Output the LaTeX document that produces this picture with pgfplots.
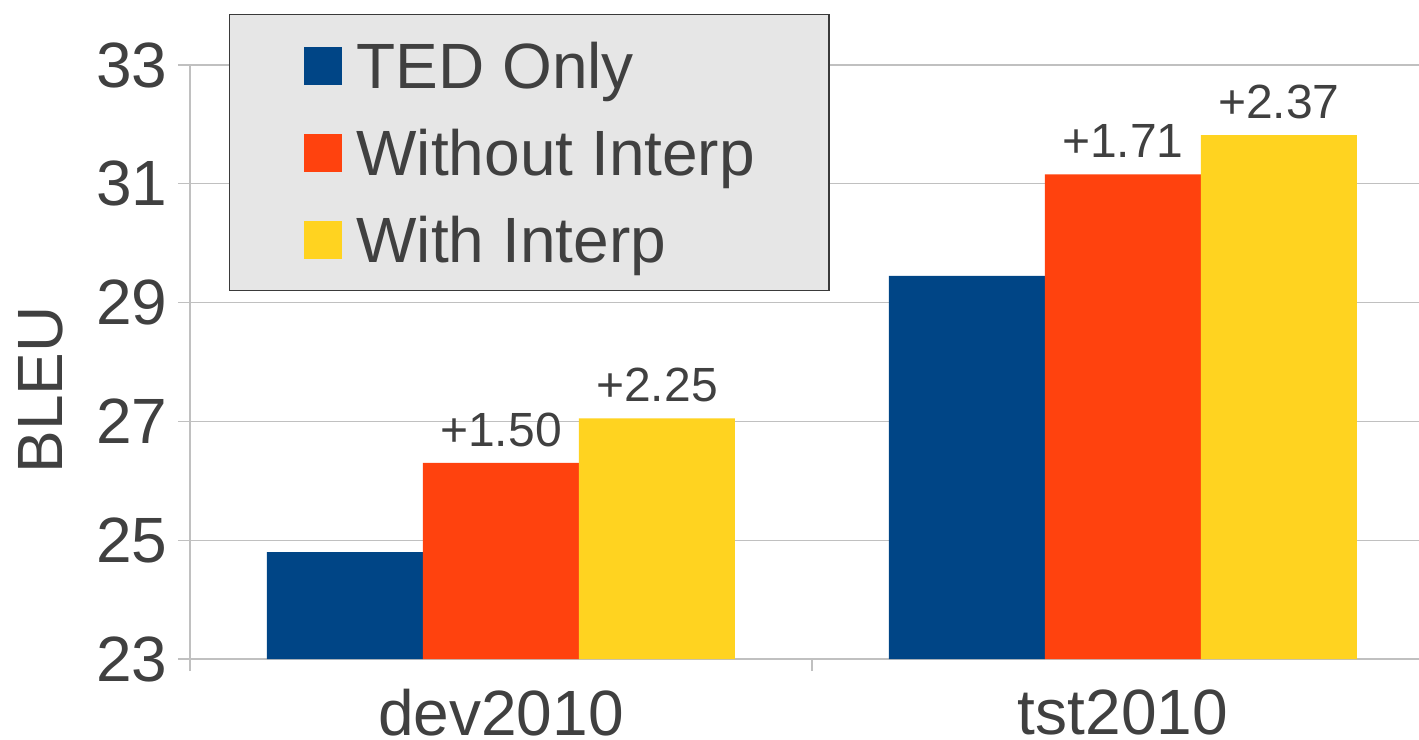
\documentclass[border=0pt]{standalone}
\usepackage{fontspec}
\setmainfont{Liberation Sans}
\usepackage{pgfplots}
\pgfplotsset{compat=1.18}
\definecolor{tedblue}{HTML}{004586}
\definecolor{woorange}{HTML}{FF420E}
\definecolor{wiyellow}{HTML}{FFD320}
\definecolor{txt}{HTML}{404040}
\definecolor{gridc}{HTML}{C0C0C0}
\definecolor{legfill}{HTML}{E6E6E6}
\definecolor{legdraw}{HTML}{3A3A3A}

\begin{document}
\begin{tikzpicture}
\useasboundingbox (-95pt,-40pt) rectangle (614.5pt,329.5pt);
\begin{axis}[
  at={(0,0)}, anchor=south west,
  scale only axis, width=614.5pt, height=297pt,
  ybar=0pt, bar width=78pt,
  xmin=-0.5, xmax=1.476, ymin=23, ymax=33,
  ytick={23,25,...,33},
  xtick={-0.5,0.5}, xticklabels={,},
  extra x ticks={0,1}, extra x tick labels={dev2010,tst2010},
  extra x tick style={major tick length=0pt},
  axis x line*=bottom, axis y line*=left,
  axis line style={gridc, line width=0.7pt},
  ymajorgrids, grid style={gridc, line width=0.7pt},
  tick align=outside, major tick length=6pt,
  tick style={gridc, line width=0.7pt},
  /pgf/number format/assume math mode=true,
  tick label style={text=txt, font=\fontsize{32}{38}\selectfont},
  yticklabel style={inner sep=0pt, xshift=-5pt},
  xticklabel style={inner sep=0pt, yshift=-15pt},
  ylabel={BLEU},
  ylabel style={at={(axis description cs:-0.1216,0.453)}, anchor=center,
    inner sep=0pt, text=txt, font=\fontsize{32}{38}\selectfont},
  legend style={at={(axis description cs:0.0317,1.0859)}, anchor=north west,
    fill=legfill, draw=legdraw, line width=0.6pt,
    inner xsep=37pt, inner ysep=3.75pt, row sep=0pt, column sep=7.5pt,
    font=\fontsize{32}{38}\selectfont, text=txt,
    nodes={inner sep=0pt, text height=33.2pt, text depth=10.3pt}},
  legend cell align=left,
  legend image code/.code={\fill[#1] (0pt,-9.5pt) rectangle (19pt,9.5pt);},
  every node near coord/.append style={anchor=south, inner sep=0pt,
    yshift=8pt, text=txt, font=\fontsize{24}{28}\selectfont},
]
\addplot[fill=tedblue, draw=none] coordinates {(0,24.80) (1,29.45)};
\addlegendentry{TED Only}
\addplot[fill=woorange, draw=none, nodes near coords, point meta=explicit symbolic]
  coordinates {(0,26.30) [+1.50] (1,31.16) [+1.71]};
\addlegendentry{Without Interp}
\addplot[fill=wiyellow, draw=none, nodes near coords, point meta=explicit symbolic]
  coordinates {(0,27.05) [+2.25] (1,31.82) [+2.37]};
\addlegendentry{With Interp}
\end{axis}
\end{tikzpicture}
\end{document}
